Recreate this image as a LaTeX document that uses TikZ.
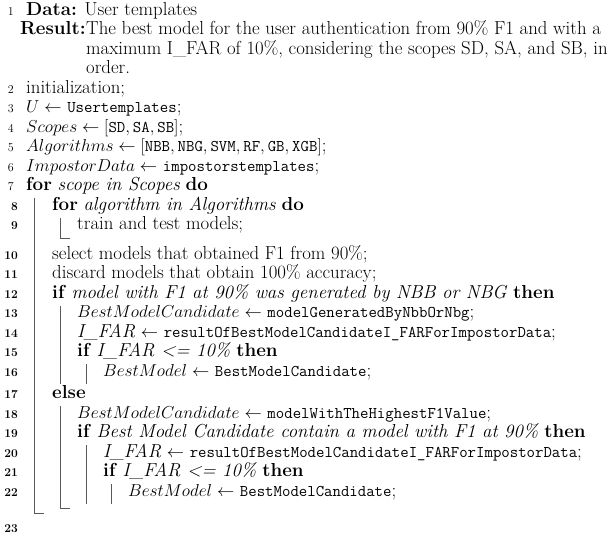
\documentclass[tikz,border=0pt]{standalone}
\usepackage{fontspec}
\setmonofont[Scale=0.87]{Latin Modern Mono}
\begin{document}
\begin{tikzpicture}[x=1pt,y=-1pt,
  t/.style={anchor=mid west,inner sep=0pt,font=\fontsize{18.8}{19}\selectfont},
  n/.style={anchor=mid east,inner sep=0pt,font=\fontsize{12}{14}\selectfont},
  nb/.style={n,font=\fontsize{12}{14}\selectfont\bfseries},
  bar/.style={draw=black!65,line width=0.9pt}]
\useasboundingbox (0,0) rectangle (613,542);
% line numbers
\foreach \k/\y in {1/13,2/91,3/110.5,4/130,5/149.5,6/169,7/188.5}
  \node[n] (n\k) at (14,\y) {\k};
\foreach \k/\y in {8/208,9/227.5,10/257,11/276.5,12/296,13/315.5,14/335,15/354.5,16/374,17/396.5,18/416,19/435.5,20/455,21/474.5,22/494,23/530}
  \node[nb] (n\k) at (18,\y) {\k};
% text
\node[t] (l1) at (26,13) {\textbf{Data:} User templates};
\node[t] (r0) at (20,32.5) {\textbf{Result:}};
\node[t] (r1) at (86,32.5) {The best model for the user authentication from 90\% F1 and with a};
\node[t] (r2) at (86,52) {maximum I\_FAR of 10\%, considering the scopes SD, SA, and SB, in this};
\node[t] (r3) at (86,71.5) {order.};
\node[t] (l2) at (26,91) {initialization;};
\node[t] (l3) at (26,110.5) {$U \leftarrow$ \texttt{Usertemplates};};
\node[t] (l4) at (26,130) {$Scopes \leftarrow [\texttt{SD},\texttt{SA},\texttt{SB}]$;};
\node[t] (l5) at (26,149.5) {$Algorithms \leftarrow [\texttt{NBB},\texttt{NBG},\texttt{SVM},\texttt{RF},\texttt{GB},\texttt{XGB}]$;};
\node[t] (l6) at (26,169) {$ImpostorData \leftarrow$ \texttt{impostorstemplates};};
\node[t] (l7) at (26,188.5) {\textbf{for} \textit{scope in Scopes} \textbf{do}};
\node[t] (l8) at (52,208) {\textbf{for} \textit{algorithm in Algorithms} \textbf{do}};
\node[t] (l9) at (77,227.5) {train and test models;};
\node[t] (l10) at (52,257) {select models that obtained F1 from 90\%;};
\node[t] (l11) at (52,276.5) {discard models that obtain 100\% accuracy;};
\node[t] (l12) at (52,296) {\textbf{if} \textit{model with F1 at 90\% was generated by NBB or NBG} \textbf{then}};
\node[t] (l13) at (77,315.5) {$BestModelCandidate \leftarrow$ \texttt{modelGeneratedByNbbOrNbg};};
\node[t] (l14) at (77,335) {\textit{I\_FAR} $\leftarrow$ \texttt{resultOfBestModelCandidateI\_FARForImpostorData};};
\node[t] (l15) at (77,354.5) {\textbf{if} \textit{I\_FAR <= 10\%} \textbf{then}};
\node[t] (l16) at (103,374) {$BestModel \leftarrow$ \texttt{BestModelCandidate};};
\node[t] (l17) at (52,396.5) {\textbf{else}};
\node[t] (l18) at (77,416) {$BestModelCandidate \leftarrow$ \texttt{modelWithTheHighestF1Value};};
\node[t] (l19) at (77,435.5) {\textbf{if} \textit{Best Model Candidate contain a model with F1 at 90\%} \textbf{then}};
\node[t] (l20) at (103,455) {\textit{I\_FAR} $\leftarrow$ \texttt{resultOfBestModelCandidateI\_FARForImpostorData};};
\node[t] (l21) at (103,474.5) {\textbf{if} \textit{I\_FAR <= 10\%} \textbf{then}};
\node[t] (l22) at (128,494) {$BestModel \leftarrow$ \texttt{BestModelCandidate};};
% block bars
\draw[bar] (34,198) -- (34,513) -- (44,513);
\draw[bar] (60,218) -- (60,238) -- (70,238);
\draw[bar] (60,306) -- (60,384);
\draw[bar] (86,364) -- (86,384);
\draw[bar] (60,406) -- (60,508) -- (70,508);
\draw[bar] (86,445) -- (86,504);
\draw[bar] (111,484) -- (111,504);
\end{tikzpicture}
\end{document}
